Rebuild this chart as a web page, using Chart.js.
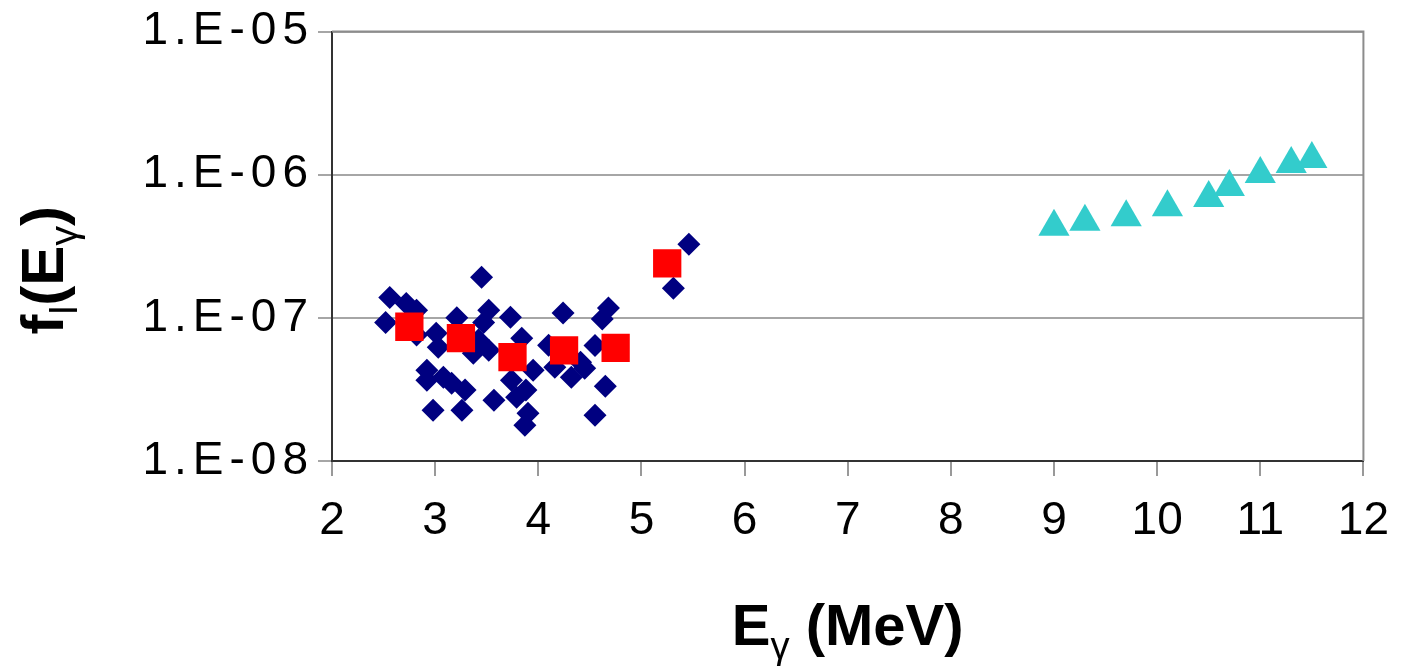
<!DOCTYPE html>
<html>
<head>
<meta charset="utf-8">
<script src="https://cdn.jsdelivr.net/npm/chart.js@4.4.0/dist/chart.umd.min.js"></script>
<style>
  html, body { margin: 0; padding: 0; background: #fff; }
  #wrap { width: 1407px; height: 666px; }
</style>
</head>
<body>
<div id="wrap"><canvas id="myChart" width="1407" height="666"></canvas></div>
<script>
// diamonds (individual measurements)
const diamondE = [2.52, 2.56, 2.72, 2.82, 2.82, 2.92, 2.92, 2.98, 3.01, 3.03, 3.08, 3.16, 3.21, 3.26, 3.29,
    3.37, 3.42, 3.45, 3.47, 3.52, 3.52, 3.57, 3.73, 3.74, 3.79, 3.84, 3.87, 3.88, 3.90, 3.95,
    4.10, 4.16, 4.24, 4.32, 4.41, 4.45, 4.55, 4.55, 4.62, 4.65, 4.68, 5.31, 5.46];
const diamondF = [9.3e-8, 1.39e-7, 1.26e-7, 1.13e-7, 7.6e-8, 4.3e-8, 3.67e-8, 2.26e-8, 7.8e-8, 6.24e-8, 3.85e-8, 3.5e-8, 1.0e-7, 2.26e-8, 3.13e-8,
    5.66e-8, 7.0e-8, 1.92e-7, 9.3e-8, 1.13e-7, 5.94e-8, 2.66e-8, 1.01e-7, 3.67e-8, 2.79e-8, 7.2e-8, 1.78e-8, 3.13e-8, 2.16e-8, 4.3e-8,
    6.44e-8, 4.52e-8, 1.08e-7, 3.85e-8, 4.9e-8, 4.45e-8, 6.4e-8, 2.09e-8, 9.8e-8, 3.33e-8, 1.17e-7, 1.61e-7, 3.27e-7];

// red squares (averages)
const squareE = [2.75, 3.25, 3.75, 4.25, 4.75, 5.25];
const squareF = [8.67e-8, 7.23e-8, 5.31e-8, 5.92e-8, 6.18e-8, 2.40e-7];

// cyan triangles
const triangleE = [9.0, 9.3, 9.7, 10.1, 10.5, 10.7, 11.0, 11.3, 11.5];
const triangleF = [4.33e-7, 4.70e-7, 5.05e-7, 5.93e-7, 6.88e-7, 8.21e-7, 1.01e-6, 1.19e-6, 1.29e-6];

const yTickValues = [1e-8, 1e-7, 1e-6, 1e-5];
const yTickLabels = ['1.E-08', '1.E-07', '1.E-06', '1.E-05'];
const xTickLabels = ['2', '3', '4', '5', '6', '7', '8', '9', '10', '11', '12'];

const FONT = '"Liberation Sans", Arial, Helvetica, sans-serif';
const Y_SPACING = '6px';

const toPoints = (xs, ys) => xs.map((x, i) => ({ x: x, y: ys[i] }));

// draws text with subscript pieces, centered on 0 at baseline 0
function drawRich(ctx, parts, size) {
    const bold = 'bold ' + size + 'px ' + FONT;
    const sub = (size * 0.66) + 'px ' + FONT;
    let total = 0;
    parts.forEach(p => { ctx.font = p.sub ? sub : bold; total += ctx.measureText(p.t).width; });
    let x = -total / 2;
    parts.forEach(p => {
        ctx.font = p.sub ? sub : bold;
        ctx.fillText(p.t, x, p.sub ? size * 0.24 : 0);
        x += ctx.measureText(p.t).width;
    });
}

const axisTitles = {
    id: 'axisTitles',
    beforeDraw(chart) {
        // spaced-out y tick labels like the original
        const s = chart.scales.y;
        if (!s._spaced) {
            const orig = s.drawLabels;
            s.drawLabels = function (area) {
                const c = this.ctx;
                const prev = c.letterSpacing;
                c.letterSpacing = Y_SPACING;
                orig.call(this, area);
                c.letterSpacing = prev;
            };
            s._spaced = true;
        }
    },
    afterDraw(chart) {
        const { ctx, chartArea } = chart;
        ctx.save();
        ctx.fillStyle = '#000';
        ctx.textBaseline = 'alphabetic';
        ctx.textAlign = 'left';
        // right / top frame of plot area
        ctx.strokeStyle = '#8c8c8c';
        ctx.lineWidth = 2;
        ctx.beginPath();
        ctx.moveTo(chartArea.left, chartArea.top);
        ctx.lineTo(chartArea.right, chartArea.top);
        ctx.lineTo(chartArea.right, chartArea.bottom);
        ctx.stroke();

        ctx.save();
        ctx.translate((chartArea.left + chartArea.right) / 2, 645);
        drawRich(ctx, [{ t: 'E' }, { t: 'γ', sub: true }, { t: ' (MeV)' }], 58);
        ctx.restore();

        ctx.save();
        ctx.translate(63, (chartArea.top + chartArea.bottom) / 2 + 24);
        ctx.rotate(-Math.PI / 2);
        drawRich(ctx, [{ t: 'f' }, { t: 'l', sub: true }, { t: '(E' }, { t: 'γ', sub: true }, { t: ')' }], 60);
        ctx.restore();
        ctx.restore();
    }
};

var ctx = document.getElementById('myChart');
new Chart(ctx, {
    type: 'scatter',
    data: {
        datasets: [{
            label: 'averages',
            data: toPoints(squareE, squareF),
            pointStyle: 'rect',
            pointRadius: 20,
            pointHoverRadius: 20,
            backgroundColor: '#ff0000',
            borderWidth: 0
        }, {
            label: 'triangles',
            data: toPoints(triangleE, triangleF),
            pointStyle: 'triangle',
            pointRadius: 18,
            pointHoverRadius: 18,
            backgroundColor: '#33cccc',
            borderWidth: 0
        }, {
            label: 'data',
            data: toPoints(diamondE, diamondF),
            pointStyle: 'rectRot',
            pointRadius: 11.5,
            pointHoverRadius: 11.5,
            backgroundColor: '#000080',
            borderWidth: 0
        }]
    },
    options: {
        responsive: false,
        animation: false,
        devicePixelRatio: 1,
        layout: { padding: { left: 0, top: 12, right: 36, bottom: 0 } },
        plugins: {
            legend: { display: false },
            tooltip: { enabled: false }
        },
        scales: {
            x: {
                type: 'linear',
                min: 2,
                max: 12,
                afterFit: s => { s.height = 205; },
                afterBuildTicks: s => { s.ticks = xTickLabels.map(t => ({ value: Number(t) })); },
                ticks: {
                    callback: (v, i) => xTickLabels[i],
                    color: '#000',
                    padding: 18,
                    maxRotation: 0,
                    font: { family: FONT, size: 46 }
                },
                grid: { drawOnChartArea: false, drawTicks: true, tickLength: 15, color: '#999', lineWidth: 2 },
                border: { color: '#333', width: 2 }
            },
            y: {
                type: 'logarithmic',
                min: 1e-8,
                max: 1e-5,
                afterFit: s => { s.width = 332; },
                afterBuildTicks: s => { s.ticks = yTickValues.map(v => ({ value: v, major: true })); },
                ticks: {
                    callback: (v, i) => yTickLabels[i],
                    color: '#000',
                    padding: 4,
                    font: { family: FONT, size: 46 }
                },
                grid: { color: '#a6a6a6', lineWidth: 2, tickLength: 14 },
                border: { color: '#333', width: 2 }
            }
        }
    },
    plugins: [axisTitles]
});
</script>
</body>
</html>
